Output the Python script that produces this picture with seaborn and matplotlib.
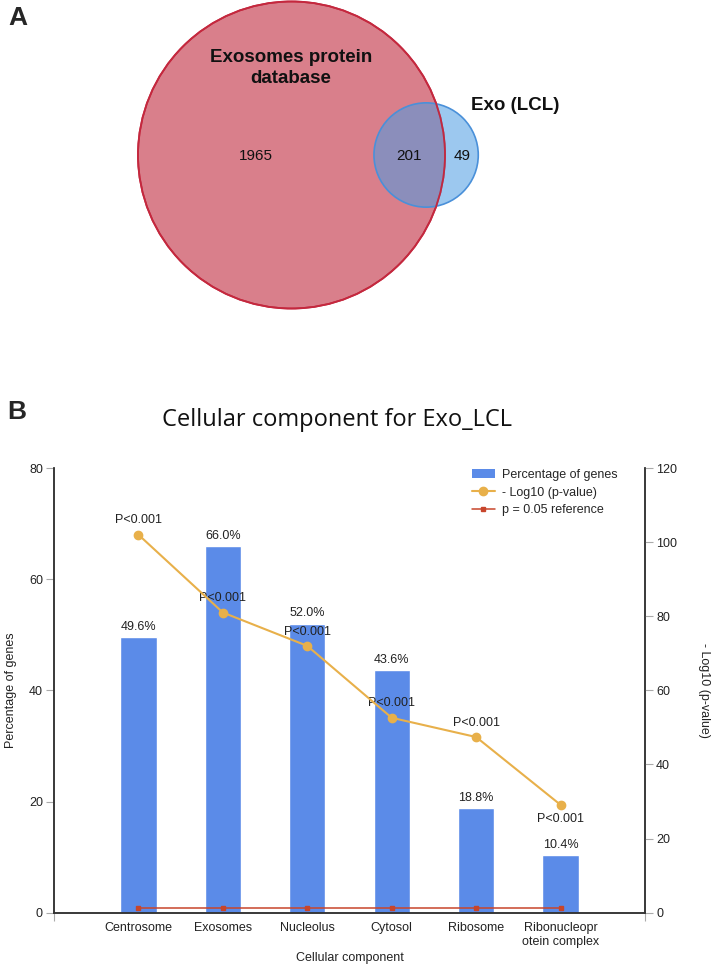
import numpy as np
import matplotlib
matplotlib.use("Agg")
import matplotlib.pyplot as plt
from matplotlib.patches import Circle, Patch
from matplotlib.lines import Line2D
import pandas as pd
import seaborn as sns

# Venn counts (panel A)
venn_labels = ["Exosomes protein\ndatabase", "Exo (LCL)"]
only_db = 1965
shared = 201
only_lcl = 49

# Cellular component enrichment (panel B)
categories = ["Centrosome", "Exosomes", "Nucleolus", "Cytosol", "Ribosome",
              "Ribonucleopr\notein complex"]
pct_genes = [49.6, 66.0, 52.0, 43.6, 18.8, 10.4]
neg_log10_p = [102, 81, 72, 52.6, 47.4, 29.1]
p_labels = ["P<0.001"] * 6
ref_p = 0.05

sns.set_style("white")
plt.rcParams["font.family"] = ["Liberation Sans", "DejaVu Sans"]

W, H = 711, 973
fig = plt.figure(figsize=(W / 100, H / 100), dpi=100)

# ---------------- panel A: venn ----------------
axa = fig.add_axes([0, 1 - 400 / H, 1, 400 / H])
axa.set_xlim(0, W)
axa.set_ylim(400, 0)
axa.axis("off")

# circle areas proportional to set sizes
scale = 153.5 / np.sqrt(only_db + shared)
r_big = scale * np.sqrt(only_db + shared)
r_small = scale * np.sqrt(shared + only_lcl)
cy = 155
cx_big = 291.5
cx_small = cx_big + 0.877 * r_big

axa.add_patch(Circle((cx_big, cy), r_big, facecolor="#d97f8b", edgecolor="#c4283e", lw=1.3, zorder=1))
axa.add_patch(Circle((cx_small, cy), r_small, facecolor="#4b9ce3", alpha=0.55, edgecolor="none", zorder=2))
axa.add_patch(Circle((cx_small, cy), r_small, facecolor="none", edgecolor="#4a90d9", lw=1.2, zorder=3))
axa.add_patch(Circle((cx_big, cy), r_big, facecolor="none", edgecolor="#c4283e", lw=1.3, zorder=3))

axa.text(291, 68, venn_labels[0], ha="center", va="center", fontsize=13.5,
         fontweight="bold", linespacing=1.3, color="#111111")
axa.text(515, 106, venn_labels[1], ha="center", va="center", fontsize=13.5,
         fontweight="bold", color="#111111")
axa.text(256, 156, str(only_db), ha="center", va="center", fontsize=11, color="#111111")
axa.text(409, 156, str(shared), ha="center", va="center", fontsize=11, color="#111111")
axa.text(462, 156, str(only_lcl), ha="center", va="center", fontsize=11, color="#111111")

fig.text(18 / W, 1 - 18 / H, "A", fontsize=19, fontweight="bold", ha="center", va="center")
fig.text(17 / W, 1 - 412 / H, "B", fontsize=19, fontweight="bold", ha="center", va="center")
fig.text(337 / W, 1 - 420 / H, "Cellular component for Exo_LCL", fontsize=17,
         family=["Open Sans", "DejaVu Sans"], ha="center", va="center", color="#111111")

# ---------------- panel B: bars + line ----------------
ax = fig.add_axes([54 / W, 1 - 912.7 / H, 591 / W, 444.7 / H])
df = pd.DataFrame({"component": categories, "pct": pct_genes})
bar_color = "#5b8be8"
sns.barplot(data=df, x="component", y="pct", color=bar_color, width=0.43,
            saturation=1, ax=ax, zorder=2)
ax.set_xlim(-1, len(categories))
ax.set_ylim(0, 80)
ax.set_yticks(np.arange(0, 81, 20))
ax.set_xlabel("Cellular component", fontsize=9, color="#222222", va="center")
ax.set_ylabel("Percentage of genes", fontsize=9, color="#222222", va="center")
ax.xaxis.set_label_coords(0.5, (912.7 - 958) / 444.7)
ax.yaxis.set_label_coords((11 - 54) / 591, 0.5)

for i, v in enumerate(pct_genes):
    ax.annotate(f"{v:.1f}%", (i, v), xytext=(0, 3), textcoords="offset points",
                ha="center", va="bottom", fontsize=9, color="#222222", zorder=5)

ax2 = ax.twinx()
ax2.set_ylim(0, 120)
ax2.set_yticks(np.arange(0, 121, 20))
xpos = np.arange(len(categories))
line_color = "#e8b04a"
ref_color = "#c8452b"
ax2.plot(xpos, [-np.log10(ref_p)] * len(categories), color=ref_color, lw=1.1,
         marker="s", markersize=3.5, zorder=3)
ax2.plot(xpos, neg_log10_p, color=line_color, lw=1.5, marker="o", markersize=6, zorder=4)
for i, (v, lab) in enumerate(zip(neg_log10_p, p_labels)):
    if i == len(categories) - 1:
        ax2.annotate(lab, (i, v), xytext=(0, -6), textcoords="offset points",
                     ha="center", va="top", fontsize=9, color="#222222")
    else:
        ax2.annotate(lab, (i, v), xytext=(0, 6), textcoords="offset points",
                     ha="center", va="bottom", fontsize=9, color="#222222")
ax2.set_ylabel("- Log10 (p-value)", fontsize=9, rotation=270, color="#222222", va="center")
ax2.yaxis.set_label_coords((704 - 54) / 591, 0.5)

for a in (ax, ax2):
    for s in a.spines.values():
        s.set_color("#333333")
        s.set_linewidth(1.1)
    a.spines["top"].set_visible(False)
    a.tick_params(axis="y", length=6, width=0.8, color="#aaaaaa", pad=2,
                  labelsize=9, labelcolor="#222222")
ax.tick_params(axis="y", left=True, direction="out")
ax2.tick_params(axis="y", right=True, direction="out")

ax.tick_params(axis="x", which="major", length=0, pad=7, labelsize=9, labelcolor="#222222")
ax.set_xticks([-1, len(categories)], minor=True)
ax.tick_params(axis="x", which="minor", bottom=True, length=6, width=0.8, color="#aaaaaa")

handles = [Patch(facecolor=bar_color, edgecolor="none"),
           Line2D([0], [0], color=line_color, lw=1.5, marker="o", markersize=6),
           Line2D([0], [0], color=ref_color, lw=1.1, marker="s", markersize=3.5)]
leg_labels = ["Percentage of genes", "- Log10 (p-value)", "p = 0.05 reference"]
ax2.legend(handles, leg_labels, loc="upper left", bbox_to_anchor=(472 / W, 1 - 469 / H),
           bbox_transform=fig.transFigure, frameon=False, fontsize=9, borderpad=0,
           borderaxespad=0, handlelength=1.8, handletextpad=0.6, labelspacing=0.45)

fig.savefig("out.png", dpi=100)
